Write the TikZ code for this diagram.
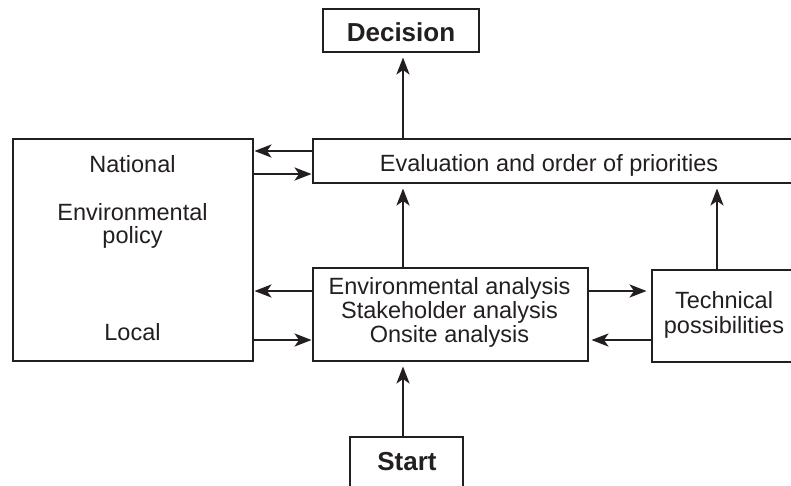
\documentclass[tikz,border=0pt]{standalone}
\usepackage{fontspec}
\setmainfont{Liberation Sans}
\usetikzlibrary{arrows.meta}
\definecolor{ink}{RGB}{35,31,32}
\begin{document}
\begin{tikzpicture}[x=1pt,y=-1pt,
  box/.style={draw=ink,line width=2.9pt,inner sep=0pt,rectangle},
  txt/.style={anchor=base,inner sep=0pt,text=ink,font=\fontsize{23.5}{24}\selectfont},
  btxt/.style={anchor=base,inner sep=0pt,text=ink,font=\fontsize{26}{28}\selectfont\bfseries},
  arr/.style={draw=ink,line width=2.7pt,-{Stealth[length=17pt,width=13pt,inset=4.5pt]}},
  gap/.style={shorten >=4pt}]
\clip (0,0) rectangle (791,485);
% boxes
\node[box,minimum width=156pt,minimum height=43pt] (dec) at (401,30.5) {};
\node[box,minimum width=490pt,minimum height=44pt] (eval) at (558,161) {};
\node[box,minimum width=240pt,minimum height=222pt] (left) at (133,250) {};
\node[box,minimum width=275pt,minimum height=93pt] (ana) at (450.5,314.5) {};
\node[box,minimum width=150pt,minimum height=92pt] (tech) at (727,316) {};
\node[box,minimum width=113pt,minimum height=50pt] (start) at (406.5,462) {};
% texts
\node[btxt] (tdec) at (401,41) {Decision};
\node[txt] (teval) at (549,171.5) {Evaluation and order of priorities};
\node[txt] (tnat) at (132.5,172) {National};
\node[txt] (tenv) at (132.5,220) {Environmental};
\node[txt] (tpol) at (132.5,243) {policy};
\node[txt] (tloc) at (132.5,340) {Local};
\node[txt] (ta1) at (449.5,294) {Environmental analysis};
\node[txt] (ta2) at (449.5,318) {Stakeholder analysis};
\node[txt] (ta3) at (449.5,342) {Onsite analysis};
\node[txt] (tt1) at (724,308) {Technical};
\node[txt] (tt2) at (724,333) {possibilities};
\node[btxt] (tstart) at (407,470) {Start};
% helper coordinates
\coordinate (cx) at (403,0);
\coordinate (tx) at (717,0);
\coordinate (ya1) at (0,151);
\coordinate (ya2) at (0,174);
\coordinate (yb1) at (0,291);
\coordinate (yb2) at (0,340);
% vertical arrows
\draw[arr,gap] (eval.north -| cx) -- (dec.south -| cx);
\draw[arr,gap] (ana.north -| cx) -- (eval.south -| cx);
\draw[arr,gap] (start.north -| cx) -- (ana.south -| cx);
\draw[arr,gap] (tech.north -| tx) -- (eval.south -| tx);
% left arrows
\draw[arr] (eval.west |- ya1) -- (left.east |- ya1);
\draw[arr] (left.east |- ya2) -- (eval.west |- ya2);
\draw[arr] (ana.west |- yb1) -- (left.east |- yb1);
\draw[arr] (left.east |- yb2) -- (ana.west |- yb2);
% right arrows
\draw[arr,gap] (ana.east |- yb1) -- (tech.west |- yb1);
\draw[arr,shorten >=2pt] (tech.west |- yb2) -- (ana.east |- yb2);
\end{tikzpicture}
\end{document}
